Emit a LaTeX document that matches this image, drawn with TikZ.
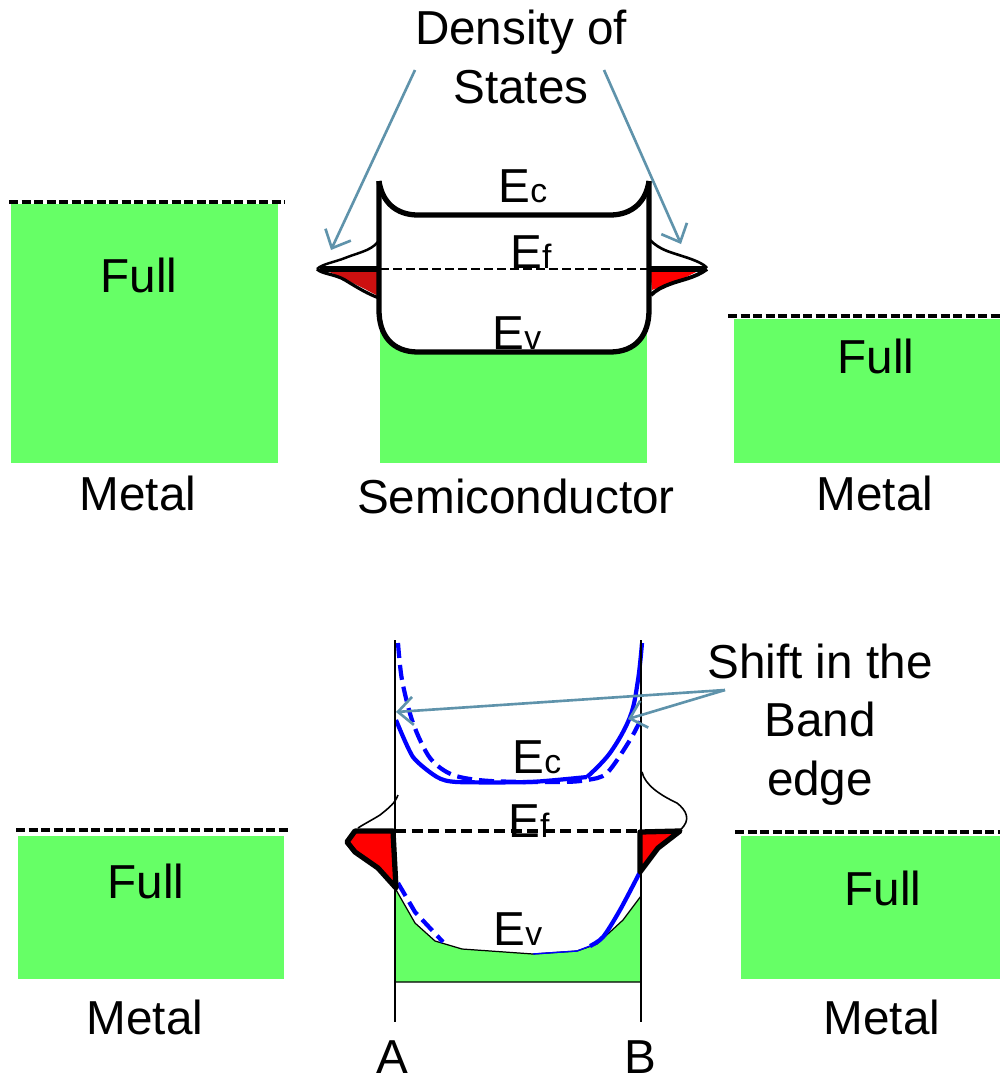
\documentclass[tikz,border=0pt]{standalone}
\usepackage{fontspec}
\setmainfont{Liberation Sans}
\usetikzlibrary{arrows.meta}
\newcommand{\bandsub}[1]{{\fontsize{9.6}{10}\selectfont #1}}
\begin{document}
\begin{tikzpicture}[
		x=0.01cm, y=-0.01cm,
		every node/.style={anchor=base, inner sep=0pt, font=\fontsize{13.55}{16.6}\selectfont},
		arrow/.style={-{Straight Barb[length=1.5mm,width=2.8mm]}, draw=arrowblue, line width=0.75pt},
		level/.style={dash pattern=on 0.9mm off 0.35mm, line width=0.95pt},
		band/.style={line width=1.5pt, line join=round},
		tail/.style={line width=0.45pt},
		edge/.style={draw=blue, line width=1.2pt},
		edgedash/.style={edge, dash pattern=on 1.5mm off 0.7mm}
		]
		\definecolor{arrowblue}{HTML}{5F93AB}
		\definecolor{bandgreen}{HTML}{66FF66}
		\definecolor{darkfill}{HTML}{CC1010}
		\useasboundingbox (0,0) rectangle (1000,1078);
		
		% upper panel
		\fill[bandgreen] (11,204) rectangle (278,463);
		\fill[bandgreen] (380,320) rectangle (647,463);
		\fill[bandgreen] (734,319) rectangle (1000,463);
		\draw[level] (9,202) -- (285,202);
		\draw[level] (728,316) -- (1000,316);
		
		\fill[darkfill] (325,270) -- (380,270) -- (380,297) -- (363,288) -- (345,279) -- cycle;
		\fill[red] (650,270) -- (700,270) -- (680,280) -- (652,290) -- cycle;
		\draw[tail, line width=0.7pt] (380,238) .. controls (375,250) and (360,252) .. (345,258) .. controls (335,262) and (322,264) .. (317,269);
		\draw[band, line width=0.9pt] (317,269) .. controls (322,274) and (335,274) .. (345,280) .. controls (358,288) and (368,294) .. (379,298);
		\draw[band] (320,269) -- (380,269);
		\draw[tail, line width=0.75pt] (650,240) .. controls (660,250) and (670,252) .. (682,256) .. controls (695,260) and (704,264) .. (707,268);
		\draw[band, line width=1.1pt] (707,269) .. controls (695,278) and (680,280) .. (670,284) .. controls (662,287) and (656,290) .. (651,295);
		\draw[band] (650,269) -- (706,269);
		
		\draw[band, fill=white] (379,181) -- (379,310) .. controls (379,335) and (392,352) .. (418,352) -- (610,352) .. controls (636,352) and (649,335) .. (649,310) -- (649,181);
		\draw[band] (379,181) .. controls (382,202) and (396,215) .. (418,215) -- (610,215) .. controls (632,215) and (646,202) .. (649,181);
		\draw[dash pattern=on 0.9mm off 0.4mm, line width=0.6pt] (380,269) -- (648,269);
		
		\node (dos) [align=center] at (521,103) {Density of\\States};
		\node (ectop) at (523,202) {E\bandsub{c}};
		\node (eftop) at (531,268) {E\bandsub{f}};
		\node (evtop) at (517,349) {E\bandsub{v}};
		\node (fullleft) at (139,292) {Full};
		\node (fullright) at (876,373) {Full};
		\node (metalleft) at (138,510) {Metal};
		\node (semi) at (516,513) {Semiconductor};
		\node (metalright) at (875,510) {Metal};
		
		\coordinate (dosleft) at (415,70);
		\coordinate (dosright) at (604,70);
		\coordinate (tipleft) at (331,250);
		\coordinate (tipright) at (681,244);
		\draw[arrow] (dosleft) -- (tipleft);
		\draw[arrow] (dosright) -- (tipright);
		
		% lower panel
		\fill[bandgreen] (18,836) rectangle (284,979);
		\fill[bandgreen] (741,836) rectangle (1000,979);
		\draw[level] (16,830) -- (291,830);
		\draw[level] (735,832) -- (1000,832);
		
		\filldraw[fill=bandgreen, draw=black, line width=0.35pt] (395,888) -- (415,923) -- (435,941) -- (462,949) -- (533,954) -- (577,951) -- (597,944) -- (623,920) -- (641,896) -- (641,982) -- (395,982) -- cycle;
		
		\draw[edgedash] plot[smooth] coordinates {(398,643) (402,680) (413,723) (430,758) (453,775) (490,781) (560,782) (587,780) (607,773) (630,740) (642,717)};
		\draw[edge] plot[smooth, tension=0.4] coordinates {(396,720) (413,757) (437,777) (457,782) (530,782) (587,777)};
		\draw[edge] plot[smooth, tension=0.6] coordinates {(587,777) (610,753) (630,717) (638,680) (642,643)};
		\draw[edgedash] (398,883) -- (415,912) -- (443,942);
		\draw[edge] plot[smooth] coordinates {(640,872) (620,910) (603,937) (590,946)};
		\draw[edge, line width=0.4pt] (590,946) -- (577,951) -- (533,954);
		
		\draw[line width=0.55pt] (395,640) -- (395,1022);
		\draw[line width=0.55pt] (641,640) -- (641,1022);
		
		\filldraw[fill=red, band] (355,831) -- (393,831) -- (396,888) -- (378,868) -- (355,852) -- (347,842) -- cycle;
		\filldraw[fill=red, band] (640,832) -- (680,831) -- (658,848) -- (640,872) -- cycle;
		\draw[tail] (398,795) .. controls (395,803) and (390,807) .. (380,815) .. controls (372,820) and (364,824) .. (358,828);
		\draw[tail] (642,772) .. controls (645,785) and (660,795) .. (677,803) .. controls (686,810) and (692,820) .. (680,830);
		\draw[dash pattern=on 1.1mm off 0.55mm, line width=1.05pt] (395,831) -- (640,831);
		
		\node (shift) [align=center] at (820,795) {Shift in the\\Band\\edge};
		\node (ecbot) at (537,773) {E\bandsub{c}};
		\node (efbot) at (529,837) {E\bandsub{f}};
		\node (evbot) at (518,945) {E\bandsub{v}};
		\node (fullleftb) at (146,898) {Full};
		\node (fullrightb) at (883,905) {Full};
		\node (metalleftb) at (145,1034) {Metal};
		\node (metalrightb) at (882,1034) {Metal};
		\node (a) at (392,1073) {A};
		\node (b) at (640,1073) {B};
		
		\coordinate (shiftstart) at (725,690);
		\coordinate (shifta) at (396,712);
		\coordinate (shiftb) at (628,719);
		\draw[arrow] (shiftstart) -- (shifta);
		\draw[arrow] (shiftstart) -- (shiftb);
		
	\end{tikzpicture}
\end{document}
